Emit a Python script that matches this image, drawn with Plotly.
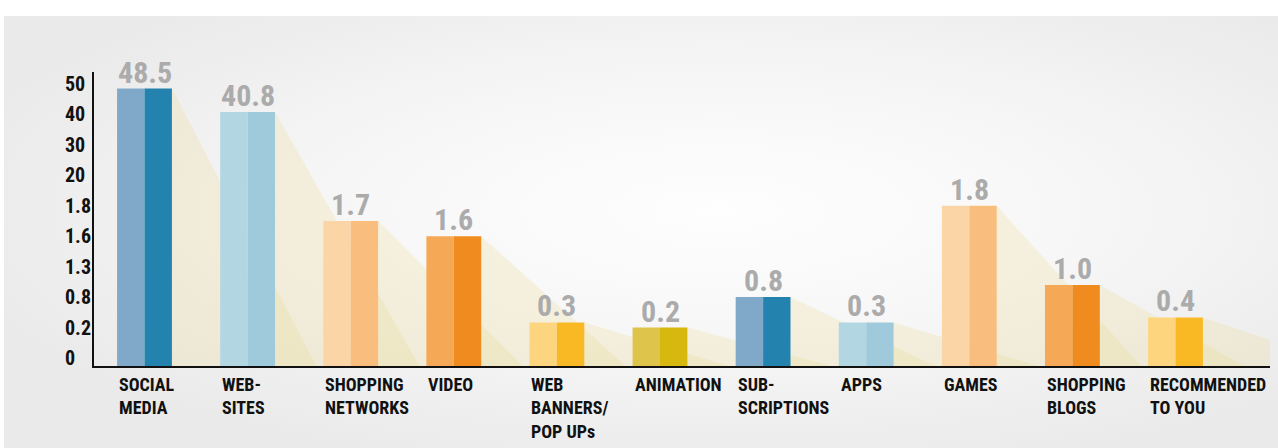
import base64
import numpy as np
import plotly.graph_objects as go

# ---- data ---------------------------------------------------------------
categories = [
    "SOCIAL<br>MEDIA", "WEB-<br>SITES", "SHOPPING<br>NETWORKS", "VIDEO",
    "WEB<br>BANNERS/<br>POP UPs", "ANIMATION", "SUB-<br>SCRIPTIONS", "APPS",
    "GAMES", "SHOPPING<br>BLOGS", "RECOMMENDED<br>TO YOU",
]
values = [48.5, 40.8, 1.7, 1.6, 0.3, 0.2, 0.8, 0.3, 1.8, 1.0, 0.4]

# the value axis is a stepped scale: each labelled tick is one even step apart
tick_values = [0, 0.2, 0.8, 1.3, 1.6, 1.8, 20, 30, 40, 50]
tick_labels = ["0", "0.2", "0.8", "1.3", "1.6", "1.8", "20", "30", "40", "50"]

# ---- styles -------------------------------------------------------------
light = ["#80a9c9", "#b3d6e3", "#fcd5a7", "#f5a856", "#fdd57f", "#dfc44b",
         "#80a9c9", "#b3d6e3", "#fcd5a7", "#f5a856", "#fdd57f"]
dark = ["#2383ae", "#9ecadb", "#f9be7d", "#f08b20", "#f8b925", "#d6b80f",
        "#2383ae", "#9ecadb", "#f9be7d", "#f08b20", "#f8b925"]

NARROW = "Liberation Sans Narrow, Arial Narrow, Roboto Condensed, Liberation Sans, Arial, sans-serif"

W, H = 1278, 448
ML, MR, MT, MB = 94, 8, 72, 82
X_UNIT = 103.1          # px per category step
Y_UNIT = 30.44          # px per tick step
FIRST_X = 144.5         # px centre of first category
ZERO_Y = 358            # px of the "0" tick

HALF = 0.266            # half bar width, category units
SHADOW_LEN = 1.4        # how far each bar's shadow reaches, category units

plot_w = W - ML - MR
plot_h = H - MT - MB
x_min = (ML - FIRST_X) / X_UNIT
x_max = x_min + plot_w / X_UNIT
floor = -((H - MB) - ZERO_Y) / Y_UNIT
top = floor + plot_h / Y_UNIT

# map the values onto the stepped scale
tick_pos = np.arange(len(tick_values), dtype=float)
bar_pos = np.interp(values, tick_values, tick_pos)
xs = np.arange(len(categories), dtype=float)

fig = go.Figure()

fig.add_trace(go.Bar(
    x=xs, y=bar_pos - floor, base=floor, width=HALF, offset=-HALF,
    marker=dict(color=light, line=dict(width=0)), hoverinfo="skip",
))
fig.add_trace(go.Bar(
    x=xs, y=bar_pos - floor, base=floor, width=HALF, offset=0,
    marker=dict(color=dark, line=dict(width=0)), hoverinfo="skip",
))

# soft shadows falling to the right of each bar
shapes = []
for i, p in enumerate(bar_pos):
    xr = xs[i] + HALF
    shapes.append(dict(
        type="path", xref="x", yref="y", layer="below",
        path=f"M {xr},{p} L {xr + SHADOW_LEN},{floor} L {xr},{floor} Z",
        fillcolor="rgba(236,218,140,0.24)", line=dict(width=0),
    ))

annotations = []
# value labels above the bars
for i, (v, p) in enumerate(zip(values, bar_pos)):
    annotations.append(dict(
        x=xs[i], y=p, xref="x", yref="y", text=f"<b>{v:.1f}</b>",
        xanchor="center", yanchor="bottom", yshift=-3, showarrow=False,
        font=dict(family=NARROW, size=30, color="#ababab"),
    ))
# category labels, left aligned with each bar
for i, c in enumerate(categories):
    annotations.append(dict(
        x=xs[i] - HALF, y=0, xref="x", yref="paper", text=f"<b>{c}</b>",
        xanchor="left", yanchor="top", align="left", yshift=-6, showarrow=False,
        font=dict(family=NARROW, size=18, color="#111111"),
    ))
# stepped axis labels, left aligned
for p, lab in zip(tick_pos, tick_labels):
    annotations.append(dict(
        x=0, y=p, xref="paper", yref="y", text=f"<b>{lab}</b>",
        xanchor="left", yanchor="middle", xshift=-31, showarrow=False,
        font=dict(family=NARROW, size=20, color="#111111"),
    ))

# radial grey backdrop
bg_w, bg_h = W - 4, H - 16
svg = (
    f'<svg xmlns="http://www.w3.org/2000/svg" width="{bg_w}" height="{bg_h}" '
    f'viewBox="0 0 {bg_w} {bg_h}" preserveAspectRatio="none">'
    '<defs><radialGradient id="g" cx="0.56" cy="0.45" r="0.62">'
    '<stop offset="0" stop-color="#fefefe"/>'
    '<stop offset="0.5" stop-color="#f6f6f6"/>'
    '<stop offset="1" stop-color="#eaeaea"/>'
    '</radialGradient></defs>'
    f'<rect width="{bg_w}" height="{bg_h}" fill="url(#g)"/></svg>'
)
bg_src = "data:image/svg+xml;base64," + base64.b64encode(svg.encode()).decode()

fig.update_layout(
    width=W, height=H, autosize=False,
    margin=dict(l=ML, r=MR, t=MT, b=MB, pad=0),
    paper_bgcolor="#ffffff", plot_bgcolor="rgba(0,0,0,0)",
    barmode="overlay", showlegend=False,
    shapes=shapes, annotations=annotations,
    images=[dict(
        source=bg_src, xref="paper", yref="paper",
        x=(4 - ML) / plot_w, y=1 + (MT - 16) / plot_h,
        sizex=bg_w / plot_w, sizey=bg_h / plot_h,
        xanchor="left", yanchor="top", sizing="stretch", layer="below",
    )],
    xaxis=dict(
        range=[x_min, x_max], showgrid=False, zeroline=False,
        showticklabels=False, ticks="", showline=True,
        linecolor="#111111", linewidth=2,
    ),
    yaxis=dict(
        range=[floor, top], showgrid=False, zeroline=False,
        showticklabels=False, ticks="", showline=True,
        linecolor="#111111", linewidth=2,
    ),
)

fig.write_html("out.html")
